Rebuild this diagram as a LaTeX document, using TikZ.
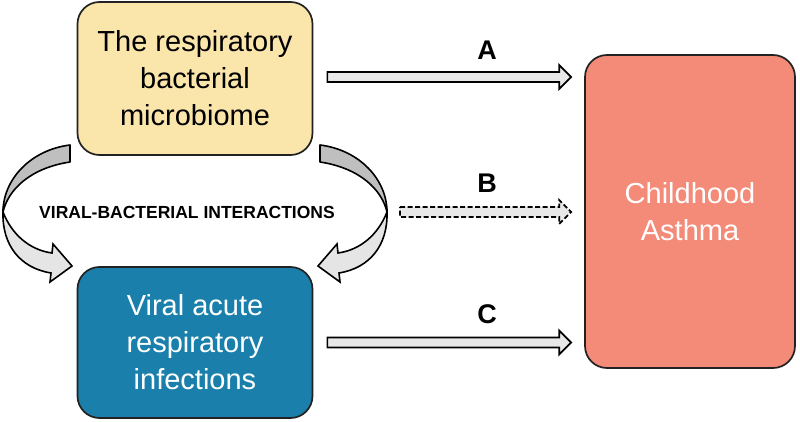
\documentclass[tikz,border=0pt]{standalone}
\usepackage{fontspec}
\setmainfont{Liberation Sans}
\usetikzlibrary{calc}
\definecolor{bactfill}{HTML}{FAE5AB}
\definecolor{viralfill}{HTML}{1A80AB}
\definecolor{asthmafill}{HTML}{F48A78}
\definecolor{edgecol}{HTML}{222222}
\tikzset{
  boxstyle/.style={draw=edgecol, line width=1.7pt, rounded corners=22pt, align=center,
    font=\fontsize{29}{37}\selectfont, inner sep=0pt},
  harrowstyle/.style={draw=black, line width=1.7pt, fill=gray!18, line join=miter},
  lbl/.style={font=\bfseries\fontsize{27}{27}\selectfont, inner sep=0pt},
  curvearrow/.pic={
    \filldraw[draw=black, line width=1.6pt, fill=gray!50, line join=round]
      (0,0) .. controls (-40,5) and (-67,35) .. (-67,67)
      .. controls (-62,45) and (-40,23) .. (0,17) -- cycle;
    \filldraw[draw=black, line width=1.6pt, fill=gray!20, line join=miter]
      (-67,67) .. controls (-58,90) and (-40,105) .. (-18,108)
      -- (-17,99) -- (2,121) -- (-20,137) -- (-19,128)
      .. controls (-50,123) and (-68,100) .. (-67,67) -- cycle;
  }
}
\newcommand\harrow[3][]{%
  \filldraw[harrowstyle,#1] let \p1=(#2), \p2=(#3) in
    (\x1,\y1+5pt) -- (\x2-12pt,\y1+5pt) -- (\x2-12pt,\y1+12pt) -- (\x2,\y1)
    -- (\x2-12pt,\y1-12pt) -- (\x2-12pt,\y1-5pt) -- (\x1,\y1-5pt) -- cycle;}
\begin{document}
\begin{tikzpicture}[x=1pt,y=-1pt]
\useasboundingbox (0,0) rectangle (800,422);
\node[boxstyle, fill=bactfill, minimum width=235pt, minimum height=153pt] (bact) at (195,78.5)
  {The respiratory\\bacterial\\microbiome};
\node[boxstyle, fill=viralfill, text=white, minimum width=235pt, minimum height=151pt] (viral) at (195,342.5)
  {Viral acute\\respiratory\\infections};
\node[boxstyle, fill=asthmafill, text=white, minimum width=210pt, minimum height=313pt] (asthma) at (690,211.5)
  {Childhood\\Asthma};
\node[font=\bfseries\fontsize{17.5}{17.5}\selectfont, inner sep=0pt] (vbi) at (187,212) {VIRAL-BACTERIAL INTERACTIONS};
\coordinate (aS) at ($(bact.east)+(14,-1.5)$);
\coordinate (aE) at ([xshift=-13pt]asthma.west |- aS);
\coordinate (bS) at (400,212);
\coordinate (bE) at ([xshift=-13pt]asthma.west |- bS);
\coordinate (cS) at ($(viral.east)+(14,0)$);
\coordinate (cE) at ([xshift=-13pt]asthma.west |- cS);
\harrow{aS}{aE}
\harrow[dash pattern=on 5pt off 2.5pt]{bS}{bE}
\harrow{cS}{cE}
\node[lbl] (la) at (487,50) {A};
\node[lbl] (lb) at (487,183) {B};
\node[lbl] (lc) at (487,314) {C};
\pic at (70,145) {curvearrow};
\pic[xscale=-1] at (320,145) {curvearrow};
\end{tikzpicture}
\end{document}
